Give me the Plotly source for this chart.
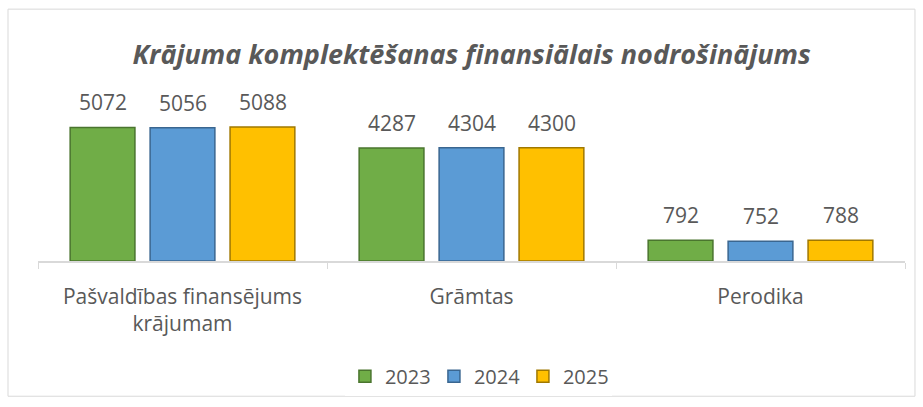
import plotly.graph_objects as go

categories = ["Pašvaldības finansējums<br>krājumam", "Grāmtas", "Perodika"]
years = ["2023", "2024", "2025"]
values_2023 = [5072, 4287, 792]
values_2024 = [5056, 4304, 752]
values_2025 = [5088, 4300, 788]
series = [values_2023, values_2024, values_2025]

fills = ["#70AD47", "#5B9BD5", "#FFC000"]
edges = ["#4A752E", "#3A6690", "#A07800"]
txt = "#595959"
FONT = "Open Sans"

fig = go.Figure()
for name, vals, f, e in zip(years, series, fills, edges):
    fig.add_trace(go.Bar(
        x=categories, y=vals, name=name,
        marker=dict(color=f, line=dict(color=e, width=1.5)),
    ))

annotations = []
shifts = [-80, 0, 80]
for vals, sh in zip(series, shifts):
    for c, v in zip(categories, vals):
        annotations.append(dict(
            x=c, y=v, xref="x", yref="y", text=str(v), showarrow=False,
            xshift=sh, yshift=9, yanchor="bottom",
            font=dict(family=FONT, size=21, color=txt)))

fig.update_layout(
    width=923, height=407,
    margin=dict(l=38, r=18, t=103, b=144),
    paper_bgcolor="white", plot_bgcolor="white",
    barmode="group", bargap=0.17, bargroupgap=0.19,
    title=dict(text="<b><i>Krājuma komplektēšanas finansiālais nodrošinājums</i></b>",
               x=0.511, xanchor="center", y=1 - 55/407, yanchor="middle",
               font=dict(family=FONT, size=27, color=txt)),
    showlegend=True,
    legend=dict(orientation="h", x=0.508, xanchor="center", y=-0.73, yanchor="middle",
                font=dict(family=FONT, size=20, color=txt), traceorder="normal",
                entrywidth=44, entrywidthmode="pixels"),
    annotations=annotations,
    shapes=[dict(type="rect", xref="paper", yref="paper",
                 x0=-0.0346, x1=1.0115, y0=-0.856, y1=1.594,
                 line=dict(color="#D9D9D9", width=1), layer="below")],
)
fig.update_xaxes(showline=True, linecolor="#D9D9D9", linewidth=1.5,
                 ticks="outside", tickson="boundaries", ticklen=6, tickcolor="#D9D9D9",
                 ticklabelstandoff=16,
                 tickfont=dict(family=FONT, size=21, color=txt), showgrid=False)
fig.update_yaxes(range=[0, 6000], visible=False, showgrid=False)

fig.write_html("out.html", config={"displayModeBar": False},
               post_script="document.body.style.margin='0';")
